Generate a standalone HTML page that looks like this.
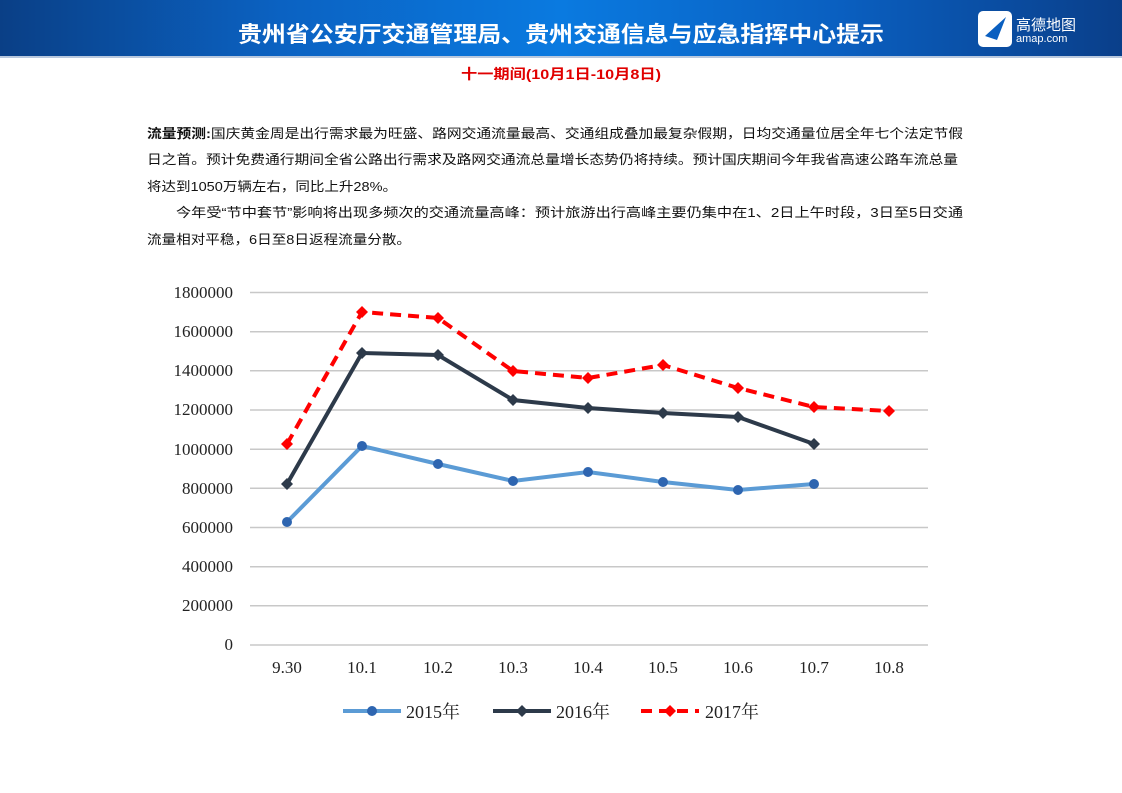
<!DOCTYPE html>
<html><head><meta charset="utf-8"><style>
html,body{margin:0;padding:0;background:#fff;}
svg{display:block;}
</style></head><body>
<svg width="1122" height="793" viewBox="0 0 1122 793" xmlns="http://www.w3.org/2000/svg" font-family="'Liberation Sans','Noto Sans CJK SC',sans-serif">
<defs>
<linearGradient id="hg" x1="0" y1="0" x2="1" y2="0">
<stop offset="0" stop-color="#0a3f86"/><stop offset="0.25" stop-color="#0b62c2"/><stop offset="0.5" stop-color="#0a7ae0"/><stop offset="0.75" stop-color="#0a5fc0"/><stop offset="1" stop-color="#0a3f8a"/>
</linearGradient>
</defs>
<rect x="0" y="0" width="1122" height="56" fill="url(#hg)"/>
<rect x="0" y="56" width="1122" height="2" fill="#b8c8de"/>
<text x="561" y="42" text-anchor="middle" font-size="22" font-weight="bold" fill="#fff" textLength="646" lengthAdjust="spacingAndGlyphs">贵州省公安厅交通管理局、贵州交通信息与应急指挥中心提示</text>
<rect x="978" y="11" width="34" height="36" rx="5" fill="#fff"/>
<path d="M985 36 L1006 17 L997 40 Z" fill="#0a5fc0"/>
<text x="1016" y="30" font-size="15" fill="#fff">高德地图</text>
<text x="1016" y="42" font-size="11" fill="#fff">amap.com</text>
<text x="561" y="79" text-anchor="middle" font-size="14" font-weight="bold" fill="#e00000" textLength="200" lengthAdjust="spacingAndGlyphs">十一期间(10月1日-10月8日)</text>
<g font-size="13" fill="#111">
<text x="147" y="138" textLength="816" lengthAdjust="spacingAndGlyphs"><tspan font-weight="bold">流量预测:</tspan>国庆黄金周是出行需求最为旺盛、路网交通流量最高、交通组成叠加最复杂假期，日均交通量位居全年七个法定节假</text>
<text x="147" y="164" textLength="811" lengthAdjust="spacingAndGlyphs">日之首。预计免费通行期间全省公路出行需求及路网交通流总量增长态势仍将持续。预计国庆期间今年我省高速公路车流总量</text>
<text x="147" y="191" textLength="250" lengthAdjust="spacingAndGlyphs">将达到1050万辆左右，同比上升28%。</text>
<text x="176" y="217" textLength="787" lengthAdjust="spacingAndGlyphs">今年受“节中套节”影响将出现多频次的交通流量高峰：预计旅游出行高峰主要仍集中在1、2日上午时段，3日至5日交通</text>
<text x="147" y="244" textLength="264" lengthAdjust="spacingAndGlyphs">流量相对平稳，6日至8日返程流量分散。</text>
</g>
<g stroke="#c8c8c8" stroke-width="1.5">
<line x1="250" x2="928" y1="292.5" y2="292.5"/><line x1="250" x2="928" y1="331.7" y2="331.7"/><line x1="250" x2="928" y1="370.8" y2="370.8"/><line x1="250" x2="928" y1="410" y2="410"/><line x1="250" x2="928" y1="449.2" y2="449.2"/><line x1="250" x2="928" y1="488.3" y2="488.3"/><line x1="250" x2="928" y1="527.5" y2="527.5"/><line x1="250" x2="928" y1="566.7" y2="566.7"/><line x1="250" x2="928" y1="605.8" y2="605.8"/><line x1="250" x2="928" y1="645" y2="645"/>
</g>
<g font-family="'Liberation Serif',serif" font-size="17" fill="#222" text-anchor="end">
<text x="233" y="298">1800000</text><text x="233" y="337">1600000</text><text x="233" y="376">1400000</text><text x="233" y="415">1200000</text><text x="233" y="455">1000000</text><text x="233" y="494">800000</text><text x="233" y="533">600000</text><text x="233" y="572">400000</text><text x="233" y="611">200000</text><text x="233" y="650">0</text>
</g>
<g font-family="'Liberation Serif',serif" font-size="17" fill="#222" text-anchor="middle">
<text x="287" y="673">9.30</text><text x="362" y="673">10.1</text><text x="438" y="673">10.2</text><text x="513" y="673">10.3</text><text x="588" y="673">10.4</text><text x="663" y="673">10.5</text><text x="738" y="673">10.6</text><text x="814" y="673">10.7</text><text x="889" y="673">10.8</text>
</g>
<polyline fill="none" stroke="#5b9bd5" stroke-width="4" points="287,522 362,446 438,464 513,481 588,472 663,482 738,490 814,484"/>
<g fill="#2e65b0">
<circle cx="287" cy="522" r="5"/><circle cx="362" cy="446" r="5"/><circle cx="438" cy="464" r="5"/><circle cx="513" cy="481" r="5"/><circle cx="588" cy="472" r="5"/><circle cx="663" cy="482" r="5"/><circle cx="738" cy="490" r="5"/><circle cx="814" cy="484" r="5"/>
</g>
<polyline fill="none" stroke="#2d3a4a" stroke-width="4" points="287,484 362,353 438,355 513,400 588,408 663,413 738,417 814,444"/>
<g fill="#2d3a4a">
<path d="M287 478l6 6-6 6-6-6z"/><path d="M362 347l6 6-6 6-6-6z"/><path d="M438 349l6 6-6 6-6-6z"/><path d="M513 394l6 6-6 6-6-6z"/><path d="M588 402l6 6-6 6-6-6z"/><path d="M663 407l6 6-6 6-6-6z"/><path d="M738 411l6 6-6 6-6-6z"/><path d="M814 438l6 6-6 6-6-6z"/>
</g>
<polyline fill="none" stroke="#ff0000" stroke-width="4" stroke-dasharray="11,7" points="287,444 362,312 438,318 513,371 588,378 663,365 738,388 814,407 889,411"/>
<g fill="#ff0000">
<path d="M287 438l6 6-6 6-6-6z"/><path d="M362 306l6 6-6 6-6-6z"/><path d="M438 312l6 6-6 6-6-6z"/><path d="M513 365l6 6-6 6-6-6z"/><path d="M588 372l6 6-6 6-6-6z"/><path d="M663 359l6 6-6 6-6-6z"/><path d="M738 382l6 6-6 6-6-6z"/><path d="M814 401l6 6-6 6-6-6z"/><path d="M889 405l6 6-6 6-6-6z"/>
</g>
<line x1="343" x2="401" y1="711" y2="711" stroke="#5b9bd5" stroke-width="4"/><circle cx="372" cy="711" r="5" fill="#2e65b0"/>
<line x1="493" x2="551" y1="711" y2="711" stroke="#2d3a4a" stroke-width="4"/><path d="M522 705l6 6-6 6-6-6z" fill="#2d3a4a"/>
<line x1="641" x2="699" y1="711" y2="711" stroke="#ff0000" stroke-width="4" stroke-dasharray="11,7"/><path d="M670 705l6 6-6 6-6-6z" fill="#ff0000"/>
<g font-family="'Liberation Serif','Noto Serif CJK SC',serif" font-size="18" fill="#222">
<text x="406" y="718">2015年</text><text x="556" y="718">2016年</text><text x="705" y="718">2017年</text>
</g>
</svg>
</body></html>
